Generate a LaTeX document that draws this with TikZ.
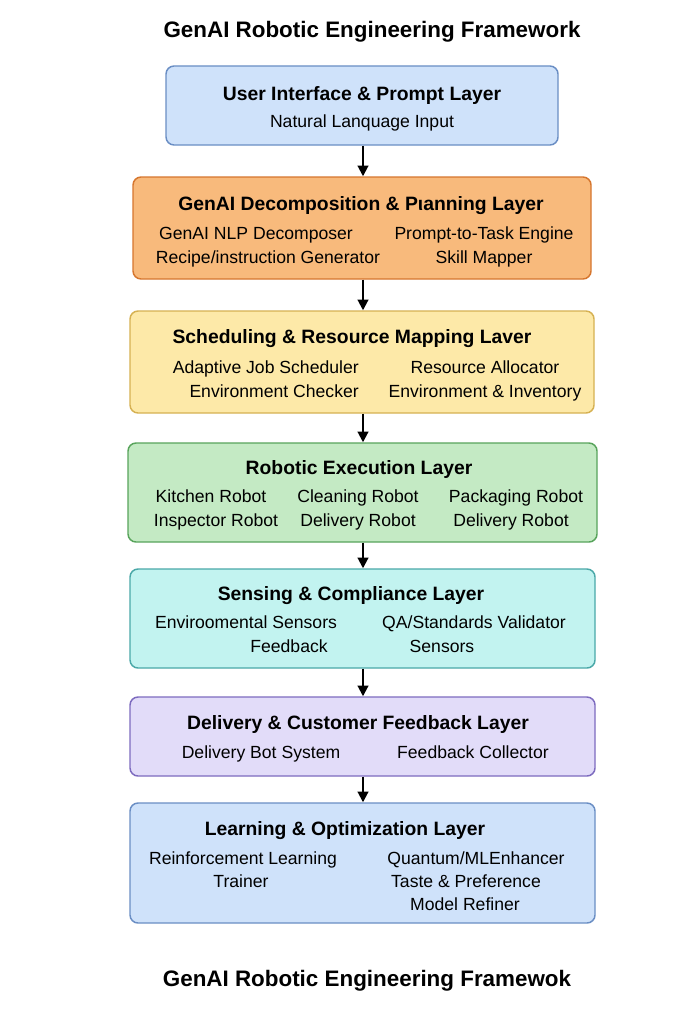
\documentclass[tikz,border=0pt]{standalone}
\usepackage{fontspec}
\setmainfont{Liberation Sans}
\usetikzlibrary{fit,arrows.meta}
\definecolor{bluefill}{HTML}{CFE2FA}
\definecolor{blueline}{HTML}{6A8EC4}
\definecolor{orangefill}{HTML}{F8BA7C}
\definecolor{orangeline}{HTML}{D6762E}
\definecolor{yellowfill}{HTML}{FDE9A8}
\definecolor{yellowline}{HTML}{D6B152}
\definecolor{greenfill}{HTML}{C4EAC4}
\definecolor{greenline}{HTML}{58A45C}
\definecolor{cyanfill}{HTML}{C2F3F0}
\definecolor{cyanline}{HTML}{4AA8A8}
\definecolor{lavfill}{HTML}{E2DCF9}
\definecolor{lavline}{HTML}{7D6BBF}
\tikzset{
  txtbase/.style={inner sep=0pt, anchor=center, text height=0.72em, text depth=0.21em, yshift=-2.2pt},
  layer/.style={rounded corners=6pt, line width=1.1pt, inner sep=0pt},
  ttl/.style={txtbase, font=\fontsize{14.5}{17}\selectfont\bfseries},
  itm/.style={txtbase, font=\fontsize{13.2}{16}\selectfont},
  bigttl/.style={txtbase, font=\fontsize{16.8}{20}\selectfont\bfseries},
  flow/.style={line width=1.5pt, -{Triangle[length=8pt,width=8pt]}}
}
\begin{document}
\begin{tikzpicture}[x=0.75pt,y=-0.75pt]
\useasboundingbox (0,0) rectangle (683,1024);
\fill[white] (0,0) rectangle (683,1024);

\node[bigttl] (title) at (372,31) {GenAI Robotic Engineering Framework};

% Layer 1
\coordinate (a1) at (166,66); \coordinate (a2) at (558,145);
\node[layer, fit=(a1)(a2), fill=bluefill, draw=blueline] (L1) {};
\node[ttl] (L1t) at (362,94) {User Interface \& Prompt Layer};
\node[itm] (L1a) at (362,121) {Natural Lanquage Input};

% Layer 2
\coordinate (b1) at (133,177); \coordinate (b2) at (591,279);
\node[layer, fit=(b1)(b2), fill=orangefill, draw=orangeline] (L2) {};
\node[ttl] (L2t) at (361,204) {GenAI Decomposition \& Pιanning Layer};
\node[itm] (L2a) at (256,233) {GenAI NLP Decomposer};
\node[itm] (L2b) at (484,233) {Prompt-to-Task Engine};
\node[itm] (L2c) at (268,257) {Recipe/instruction Generator};
\node[itm] (L2d) at (484,257) {Skill Mapper};

% Layer 3
\coordinate (c1) at (130,311); \coordinate (c2) at (594,413);
\node[layer, fit=(c1)(c2), fill=yellowfill, draw=yellowline] (L3) {};
\node[ttl] (L3t) at (352,337) {Scheduling \& Resource Mapping Laver};
\node[itm, anchor=east] (L3a) at (359,367) {Adaptive Job Scheduler};
\node[itm, anchor=east] (L3b) at (359,391) {Environment Checker};
\node[itm] (L3c) at (485,367) {Resource Allocator};
\node[itm] (L3d) at (485,391) {Environment \& Inventory};

% Layer 4
\coordinate (d1) at (128,443); \coordinate (d2) at (597,542);
\node[layer, fit=(d1)(d2), fill=greenfill, draw=greenline] (L4) {};
\node[ttl] (L4t) at (359,468) {Robotic Execution Layer};
\node[itm] (L4a) at (211,496) {Kitchen Robot};
\node[itm] (L4b) at (358,496) {Cleaning Robot};
\node[itm] (L4c) at (516,496) {Packaging Robot};
\node[itm] (L4d) at (216,520) {Inspector Robot};
\node[itm] (L4e) at (358,520) {Delivery Robot};
\node[itm] (L4f) at (511,520) {Delivery Robot};

% Layer 5
\coordinate (e1) at (130,569); \coordinate (e2) at (595,668);
\node[layer, fit=(e1)(e2), fill=cyanfill, draw=cyanline] (L5) {};
\node[ttl] (L5t) at (351,594) {Sensing \& Compliance Layer};
\node[itm] (L5a) at (246,622) {Enviroomental Sensors};
\node[itm] (L5b) at (289,646) {Feedback};
\node[itm] (L5c) at (474,622) {QA/Standards Validator};
\node[itm] (L5d) at (442,646) {Sensors};

% Layer 6
\coordinate (f1) at (130,697); \coordinate (f2) at (595,776);
\node[layer, fit=(f1)(f2), fill=lavfill, draw=lavline] (L6) {};
\node[ttl] (L6t) at (358,723) {Delivery \& Customer Feedback Layer};
\node[itm] (L6a) at (261,752) {Delivery Bot System};
\node[itm] (L6b) at (473,752) {Feedback Collector};

% Layer 7
\coordinate (g1) at (130,803); \coordinate (g2) at (595,923);
\node[layer, fit=(g1)(g2), fill=bluefill, draw=blueline] (L7) {};
\node[ttl] (L7t) at (345,829) {Learning \& Optimization Layer};
\node[itm] (L7a) at (243,858) {Reinforcement Learning};
\node[itm] (L7b) at (241,881) {Trainer};
\node[itm] (L7c) at (476,858) {Quantum/MLEnhancer};
\node[itm] (L7d) at (466,881) {Taste \& Preference};
\node[itm] (L7e) at (465,904) {Model Refiner};

\node[bigttl] (foot) at (367,980) {GenAI Robotic Engineering Framewok};

% Connectors
\coordinate (x1) at (363,0);
\draw[flow] (L1.south -| x1) -- (L2.north -| x1);
\draw[flow] (L2.south -| x1) -- (L3.north -| x1);
\draw[flow] (L3.south -| x1) -- (L4.north -| x1);
\draw[flow] (L4.south -| x1) -- (L5.north -| x1);
\draw[flow] (L5.south -| x1) -- (L6.north -| x1);
\draw[flow] (L6.south -| x1) -- (L7.north -| x1);
\end{tikzpicture}
\end{document}
